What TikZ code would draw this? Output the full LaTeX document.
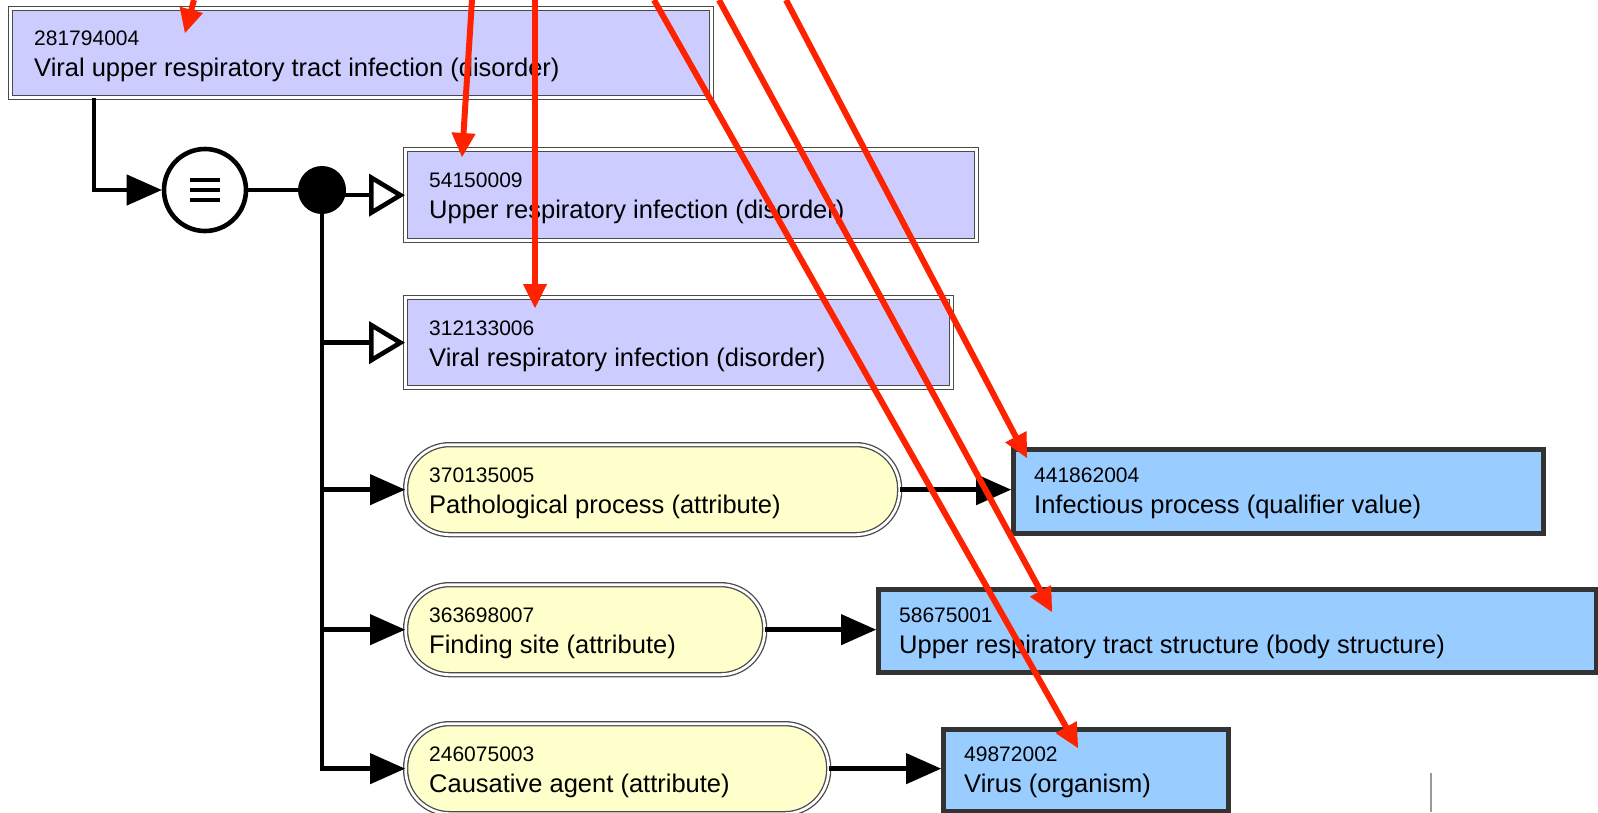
\documentclass[tikz,border=0pt]{standalone}
\usepackage{fontspec}
\setmainfont{Liberation Sans}
\usetikzlibrary{arrows.meta,calc}
\definecolor{lavfill}{HTML}{CCCCFF}
\definecolor{yelfill}{HTML}{FFFFCC}
\definecolor{blufill}{HTML}{99CCFF}
\definecolor{bordgray}{HTML}{4A4A4A}
\definecolor{bdark}{HTML}{333333}
\definecolor{redarr}{HTML}{FF2200}
\begin{document}
\begin{tikzpicture}[x=1pt,y=-1pt,
  dbl/.style={draw=bordgray, line width=1.3pt, double=white, double distance=2.7pt, rectangle, inner sep=0pt, anchor=north west},
  lavbox/.style={dbl, fill=lavfill},
  pillbox/.style={dbl, fill=yelfill, rounded corners=44pt},
  blubox/.style={draw=bdark, line width=5pt, fill=blufill, rectangle, inner sep=0pt, anchor=north west},
  codetxt/.style={anchor=base west, inner sep=0pt, font=\fontsize{21}{24}\selectfont},
  nametxt/.style={anchor=base west, inner sep=0pt, font=\fontsize{25.5}{28}\selectfont},
  conn/.style={line width=4.6pt, draw=black},
  fhead/.style={conn, -{Triangle[length=35pt,width=31pt,line width=1pt]}},
  ohead/.style={conn, -{Triangle[length=36pt,width=42pt,fill=white]}},
  redarrow/.style={line width=6pt, draw=redarr, -{Triangle[length=24pt,width=24pt,line width=1pt]}}
]
\useasboundingbox (0,0) rectangle (1598,812);
\clip (0,0) rectangle (1598,812);
\fill[white] (0,0) rectangle (1598,812);

% boxes
\node[lavbox, minimum width=701pt, minimum height=89pt] (top) at (10,8) {};
\node[lavbox, minimum width=571pt, minimum height=91pt] (b2) at (405,149) {};
\node[lavbox, minimum width=546pt, minimum height=90pt] (b3) at (405,297) {};
\node[pillbox, minimum width=494pt, minimum height=90pt] (y1) at (405,444) {};
\node[pillbox, minimum width=359pt, minimum height=90pt] (y2) at (405,584) {};
\node[pillbox, minimum width=423pt, minimum height=90pt] (y3) at (405,723) {};
\node[blubox, minimum width=530pt, minimum height=84pt] (bl1) at (1011,447) {};
\node[blubox, minimum width=718pt, minimum height=83pt] (bl2) at (876,587) {};
\node[blubox, minimum width=285pt, minimum height=82pt] (bl3) at (941,727) {};

% texts
\node[codetxt] (topc) at (34,45) {281794004};
\node[nametxt] (topn) at (34,76) {Viral upper respiratory tract infection (disorder)};
\node[codetxt] (b2c) at (429,187) {54150009};
\node[nametxt] (b2n) at (429,218) {Upper respiratory infection (disorder)};
\node[codetxt] (b3c) at (429,335) {312133006};
\node[nametxt] (b3n) at (429,366) {Viral respiratory infection (disorder)};
\node[codetxt] (y1c) at (429,482) {370135005};
\node[nametxt] (y1n) at (429,513) {Pathological process (attribute)};
\node[codetxt] (y2c) at (429,622) {363698007};
\node[nametxt] (y2n) at (429,653) {Finding site (attribute)};
\node[codetxt] (y3c) at (429,761) {246075003};
\node[nametxt] (y3n) at (429,792) {Causative agent (attribute)};
\node[codetxt] (bl1c) at (1034,482) {441862004};
\node[nametxt] (bl1n) at (1034,513) {Infectious process (qualifier value)};
\node[codetxt] (bl2c) at (899,622) {58675001};
\node[nametxt] (bl2n) at (899,653) {Upper respiratory tract structure (body structure)};
\node[codetxt] (bl3c) at (964,761) {49872002};
\node[nametxt] (bl3n) at (964,792) {Virus (organism)};

% equivalence circle and junction dot
\node[circle, draw=black, line width=4.6pt, fill=white, minimum size=82pt, inner sep=0pt] (eq) at (205,190) {};
\draw[line width=4.5pt] ($(eq.center)+(-15,-10)$) -- ++(30,0);
\draw[line width=4.5pt] ($(eq.center)+(-15,0)$) -- ++(30,0);
\draw[line width=4.5pt] ($(eq.center)+(-15,10)$) -- ++(30,0);
\node[circle, fill=black, minimum size=48pt, inner sep=0pt] (dot) at (322,190) {};

% black connectors
\draw[fhead] ($(top.south west)+(84,0)$) |- (eq.west);
\draw[conn] (eq.east) -- (dot.west);
\draw[ohead] (dot.center |- b2.west) -- (b2.west);
\draw[ohead] (dot.center) |- (b3.west);
\draw[fhead] (dot.center) |- (y1.west);
\draw[fhead] (dot.center) |- (y2.west);
\draw[fhead] (dot.center) |- (y3.west);
\draw[fhead] (y1.east) -- (y1.east -| bl1.west);
\draw[fhead] (y2.east) -- (y2.east -| bl2.west);
\draw[fhead] (y3.east) -- (y3.east -| bl3.west);

% red arrows
\coordinate (r1s) at (194,0);  \coordinate (r1e) at (185,33);
\coordinate (r2s) at (472,0);  \coordinate (r2e) at (462,157);
\coordinate (r3s) at (535,0);  \coordinate (r3e) at (535,308);
\coordinate (r4s) at (654,0);  \coordinate (r4e) at (1078,748);
\coordinate (r5s) at (719,0);  \coordinate (r5e) at (1052,612);
\coordinate (r6s) at (786,0);  \coordinate (r6e) at (1027,458);
\draw[redarrow] (r1s) -- (r1e);
\draw[redarrow] (r2s) -- (r2e);
\draw[redarrow] (r3s) -- (r3e);
\draw[redarrow] (r4s) -- (r4e);
\draw[redarrow] (r5s) -- (r5e);
\draw[redarrow] (r6s) -- (r6e);

% stray grey mark
\coordinate (g1) at (1431,773); \coordinate (g2) at (1431,812);
\draw[line width=2pt, draw=gray!80] (g1) -- (g2);
\end{tikzpicture}
\end{document}
